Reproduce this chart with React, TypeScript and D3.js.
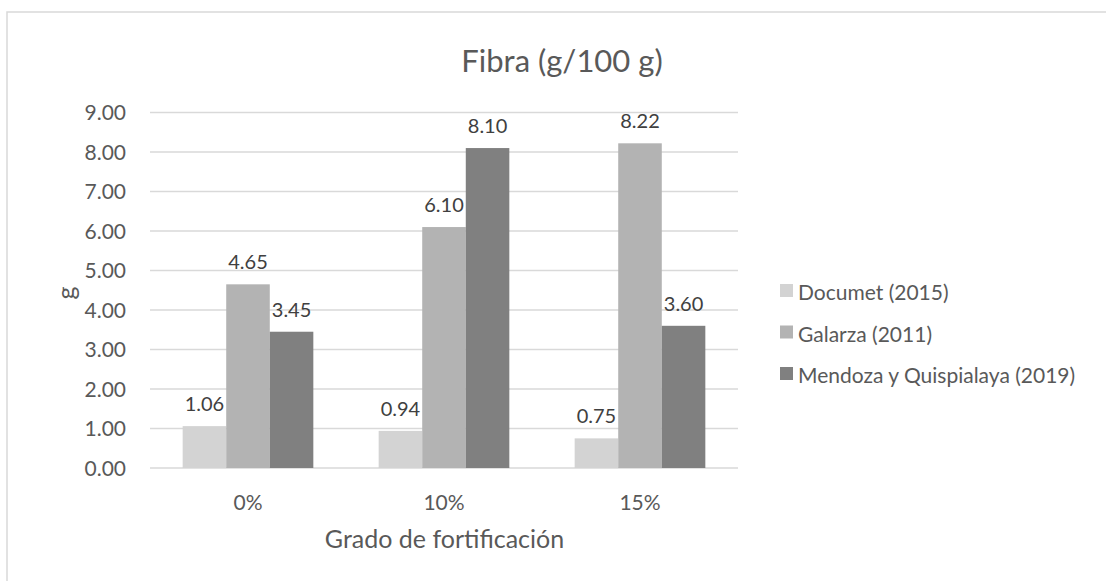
import React from "react";
import * as d3 from "d3";

const categories = ["0%", "10%", "15%"];
const seriesNames = ["Documet (2015)", "Galarza (2011)", "Mendoza y Quispialaya (2019)"];
const documet = [1.06, 0.94, 0.75];
const galarza = [4.65, 6.1, 8.22];
const mendoza = [3.45, 8.1, 3.6];
const yTicks = [0, 1, 2, 3, 4, 5, 6, 7, 8, 9];
const colors = ["#d3d3d3", "#b3b3b3", "#808080"];

const series = [documet, galarza, mendoza];

export default function App() {
  const W = 1106, H = 581;
  const left = 150, right = 738, top = 112.5, bottom = 468;
  const x = d3.scaleBand<string>().domain(categories).range([left, right]).paddingInner(0).paddingOuter(0);
  const y = d3.scaleLinear().domain([0, 9]).range([bottom, top]);
  const bw = x.bandwidth();
  const barW = bw / (3 + 1.5);
  const inner = d3.scaleBand<number>().domain([0, 1, 2]).range([0, barW * 3]);
  const font = "Lato, 'Open Sans', sans-serif";
  return (
    <svg width={W} height={H} style={{ position: "absolute", left: 0, top: 0 }} fontFamily={font}>
      <rect x={0} y={0} width={W} height={H} fill="#fff" />
      <rect x={7} y={12} width={W + 20} height={H + 20} fill="#fff" stroke="#d9d9d9" strokeWidth={1.5} />
      <text x={562} y={72} textAnchor="middle" fontSize={31} fill="#595959">Fibra (g/100 g)</text>
      {yTicks.map((t) => (
        <g key={t}>
          <line x1={left} x2={right} y1={y(t)} y2={y(t)} stroke="#d9d9d9" strokeWidth={1.3} />
          <text x={126} y={y(t) + 7.5} textAnchor="end" fontSize={21} fill="#595959">{t.toFixed(2)}</text>
        </g>
      ))}
      {categories.map((c, ci) => {
        const x0 = (x(c) as number) + (bw - barW * 3) / 2;
        return (
          <g key={c}>
            {series.map((s, si) => {
              const bx = x0 + (inner(si) as number);
              const v = s[ci];
              return (
                <g key={si}>
                  <rect x={bx} y={y(v)} width={inner.bandwidth()} height={bottom - y(v)} fill={colors[si]} />
                  <text x={bx + barW / 2} y={y(v) - 15} textAnchor="middle" fontSize={20} fill="#404040">{v.toFixed(2)}</text>
                </g>
              );
            })}
            <text x={(x(c) as number) + bw / 2} y={510} textAnchor="middle" fontSize={21} fill="#595959">{c}</text>
          </g>
        );
      })}
      <text x={444.5} y={548} textAnchor="middle" fontSize={25} fill="#595959">Grado de fortificación</text>
      <text transform={`translate(75,293) rotate(-90)`} textAnchor="middle" fontSize={25} fill="#595959">g</text>
      {seriesNames.map((n, i) => (
        <g key={n}>
          <rect x={780} y={284 + i * 41.5} width={13} height={13} fill={colors[i]} />
          <text x={798} y={300 + i * 41.5} fontSize={21} fill="#595959">{n}</text>
        </g>
      ))}
    </svg>
  );
}
